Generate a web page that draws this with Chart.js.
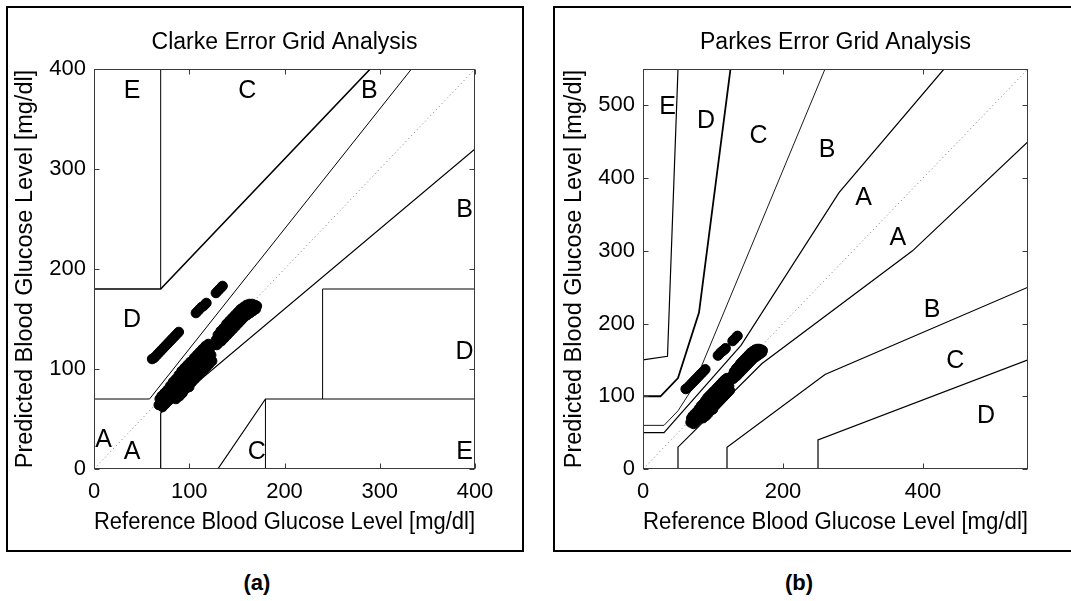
<!DOCTYPE html>
<html>
<head>
<meta charset="utf-8">
<script src="https://cdn.jsdelivr.net/npm/chart.js@4.4.1/dist/chart.umd.min.js"></script>
<style>
  html, body { margin: 0; padding: 0; background: #fff; }
  body { width: 1071px; height: 601px; position: relative; overflow: hidden; }
  .frame { position: absolute; border: 2px solid #000; box-sizing: border-box; }
  #frameA { left: 6px; top: 6px; width: 518px; height: 546px; }
  #frameB { left: 553px; top: 6px; width: 560px; height: 546px; }
  canvas { position: absolute; top: 0; }
  #clarke { left: 0; }
  #parkes { left: 535px; }
  .caption { position: absolute; top: 570px; width: 60px; line-height: 26px; text-align: center;
             font: bold 22px "Liberation Sans", Arial, sans-serif; }
</style>
</head>
<body>
<div class="frame" id="frameA"></div>
<div class="frame" id="frameB"></div>
<canvas id="clarke" width="530" height="560"></canvas>
<canvas id="parkes" width="536" height="560"></canvas>
<div class="caption" style="left:227px">(a)</div>
<div class="caption" style="left:769px">(b)</div>
<script>
const FONT = '"Liberation Sans", Arial, Helvetica, sans-serif';

// measurements: reference vs predicted glucose (same set on both grids)
const refGlucose = [
  61, 63, 65, 67, 69, 71, 73, 75, 77, 79, 81, 83, 85, 87, 89,
  107, 109, 111, 113, 115, 117, 118,
  128, 130, 132, 134, 135,
  68, 69, 70, 71, 72, 73, 74, 75, 76, 77, 78, 79, 80, 81, 82, 83, 84, 85, 86, 86,
  87, 88, 88, 89, 90, 90, 91, 92, 92, 93, 94, 95, 95, 96, 97, 98, 98, 99, 100, 100,
  101, 102, 103, 104, 105, 105, 106, 107, 108, 108, 109, 110, 111, 111, 112, 113, 114, 114,
  115, 116, 117, 117, 118, 119, 120, 120, 121, 122, 123, 124,
  128, 129, 130, 131, 132, 133, 134, 135, 136, 137, 138, 139, 140, 141, 142, 143,
  144, 145, 146, 147, 148, 149, 150, 151, 152, 153, 154, 155, 156, 157, 158, 159, 160,
  161, 162, 163, 164, 165, 166, 167, 168, 169, 170, 171
];
const predGlucose = [
  110, 111, 113, 115, 117, 119, 121, 123, 125, 127, 129, 131, 133, 135, 137,
  156, 158, 160, 162, 163, 165, 166,
  176, 178, 180, 182, 183,
  64, 70, 66, 73, 62, 69, 76, 65, 72, 79, 68, 75, 83, 71, 78, 87, 74, 81, 90, 70,
  77, 85, 72, 94, 80, 73, 89, 98, 83, 76, 93, 101, 86, 80, 96, 104, 89, 83, 99, 82,
  107, 92, 87, 102, 111, 95, 90, 106, 114, 99, 93, 109, 117, 102, 96, 112, 120, 105,
  99, 115, 123, 108, 102, 118, 125, 111, 105, 121, 114, 108,
  129, 124, 134, 126, 131, 138, 128, 134, 141, 131, 137, 145, 134, 141, 148, 137,
  144, 151, 140, 147, 154, 143, 150, 157, 146, 153, 160, 149, 156, 162, 152, 159, 164,
  154, 161, 165, 156, 162, 165, 158, 163, 164, 160, 163
];

// Clarke zone boundaries (polylines)
const clarkeBoundX = [
  [0, 58.3, 333.3],
  [0, 70, 290],
  [70, 70],
  [70, 70, 400],
  [130, 180, 400],
  [180, 180],
  [240, 240, 400]
];
const clarkeBoundY = [
  [70, 70, 400],
  [180, 180, 400],
  [180, 400],
  [0, 56, 320],
  [0, 70, 70],
  [0, 70],
  [70, 180, 180]
];
const clarkeTicks = [0, 100, 200, 300, 400];
const clarkeZoneText = ['A', 'A', 'B', 'B', 'C', 'C', 'D', 'D', 'E', 'E'];
const clarkeZoneX = [10, 40, 289, 389, 161, 171, 40, 389, 40, 389];
const clarkeZoneY = [29, 17, 378, 259, 378, 17, 149, 117, 378, 17];

// Parkes (type 1) zone boundaries
const parkesBoundX = [
  [0, 30, 140, 280, 430],
  [50, 50, 170, 385, 550],
  [0, 30, 50, 70, 260],
  [120, 120, 260, 550],
  [0, 25, 50, 80, 125],
  [250, 250, 550],
  [0, 35, 50]
];
const parkesBoundY = [
  [50, 50, 170, 380, 550],
  [0, 30, 145, 300, 450],
  [60, 60, 80, 110, 550],
  [0, 30, 130, 250],
  [100, 100, 125, 215, 550],
  [0, 40, 150],
  [150, 155, 550]
];
const parkesXTicks = [0, 200, 400];
const parkesYTicks = [0, 100, 200, 300, 400, 500];
const parkesZoneText = ['E', 'D', 'C', 'B', 'A', 'A', 'B', 'C', 'D'];
const parkesZoneX = [35, 90, 165, 263, 315, 364, 413, 446, 490];
const parkesZoneY = [497, 478, 458, 438, 373, 318, 219, 148, 73];

function toPoints(xs, ys) {
  return xs.map((x, i) => ({ x, y: ys[i] }));
}

// zone letters + box with inward ticks on all four sides
function gridDecor(text, tx, ty) {
  return {
    id: 'gridDecor',
    afterDatasetsDraw(chart) {
      const { ctx, chartArea: a, scales: { x, y } } = chart;
      ctx.save();
      ctx.font = '25px ' + FONT;
      ctx.fillStyle = '#000';
      ctx.textAlign = 'center';
      ctx.textBaseline = 'middle';
      text.forEach((t, i) => ctx.fillText(t, x.getPixelForValue(tx[i]), y.getPixelForValue(ty[i])));

      const l = Math.round(a.left) + 0.5, r = Math.round(a.right) - 0.5;
      const t0 = Math.round(a.top) + 0.5, b = Math.round(a.bottom) - 0.5;
      ctx.strokeStyle = '#3a3a3a';
      ctx.lineWidth = 1;
      ctx.strokeRect(l, t0, r - l, b - t0);
      ctx.beginPath();
      x.ticks.forEach(tk => {
        const px = Math.round(x.getPixelForValue(tk.value)) + 0.5;
        ctx.moveTo(px, b); ctx.lineTo(px, b - 5);
        ctx.moveTo(px, t0); ctx.lineTo(px, t0 + 5);
      });
      y.ticks.forEach(tk => {
        const py = Math.round(y.getPixelForValue(tk.value)) + 0.5;
        ctx.moveTo(l, py); ctx.lineTo(l + 5, py);
        ctx.moveTo(r, py); ctx.lineTo(r - 5, py);
      });
      ctx.stroke();
      ctx.restore();
    }
  };
}

function buildGrid(canvas, o) {
  const datasets = [{
    data: toPoints(refGlucose, predGlucose),
    pointRadius: 4.8,
    pointBorderWidth: 1,
    pointBackgroundColor: '#000',
    pointBorderColor: '#000',
    order: 0
  }, {
    data: [{ x: 0, y: 0 }, { x: o.max, y: o.max }],
    showLine: true,
    pointRadius: 0,
    borderColor: '#777',
    borderWidth: 1,
    borderDash: [1, 3],
    order: 2
  }];
  o.boundX.forEach((xs, i) => datasets.push({
    data: toPoints(xs, o.boundY[i]),
    showLine: true,
    pointRadius: 0,
    borderColor: '#000',
    borderWidth: o.widths[i],
    order: 1
  }));

  const tickFont = { family: FONT, size: 22 };
  const titleFont = { family: FONT, size: 23.5 };

  return new Chart(canvas, {
    type: 'scatter',
    data: { datasets },
    options: {
      responsive: false,
      animation: false,
      devicePixelRatio: 1,
      events: [],
      layout: { padding: { top: 20, right: o.padRight, left: 0, bottom: 0 } },
      plugins: {
        legend: { display: false },
        tooltip: { enabled: false },
        title: {
          display: true,
          text: o.title,
          fullSize: false,
          color: '#000',
          font: { family: FONT, size: 23, weight: 'normal' },
          padding: { top: 9.2, bottom: 12.2 }
        }
      },
      scales: {
        x: {
          type: 'linear', min: 0, max: o.max,
          afterBuildTicks: s => { s.ticks = o.xTicks.map(v => ({ value: v })); },
          afterFit: s => { s.height = 560 - 469; },
          grid: { display: false, drawTicks: false },
          border: { display: false },
          ticks: { color: '#000', font: tickFont, padding: 9.8, maxRotation: 0 },
          title: {
            display: true, text: 'Reference Blood Glucose Level [mg/dl]',
            color: '#000', font: titleFont, padding: { top: 0, bottom: 22.9 }
          }
        },
        y: {
          type: 'linear', min: 0, max: o.max,
          afterBuildTicks: s => { s.ticks = o.yTicks.map(v => ({ value: v })); },
          afterFit: s => { s.width = o.axisWidth; },
          grid: { display: false, drawTicks: false },
          border: { display: false },
          ticks: { color: '#000', font: tickFont, padding: 8 },
          title: {
            display: true, text: 'Predicted Blood Glucose Level [mg/dl]',
            color: '#000', font: titleFont, padding: { top: o.yTitlePad, bottom: 0 }
          }
        }
      }
    },
    plugins: [gridDecor(o.text, o.tx, o.ty)]
  });
}

buildGrid(document.getElementById('clarke'), {
  title: 'Clarke Error Grid Analysis',
  max: 400,
  boundX: clarkeBoundX, boundY: clarkeBoundY,
  widths: [1, 1.6, 1, 1.2, 1.2, 1, 1],
  xTicks: clarkeTicks, yTicks: clarkeTicks,
  text: clarkeZoneText, tx: clarkeZoneX, ty: clarkeZoneY,
  axisWidth: 94, padRight: 530 - 475, yTitlePad: 11.5
});

buildGrid(document.getElementById('parkes'), {
  title: 'Parkes Error Grid Analysis',
  max: 550,
  boundX: parkesBoundX, boundY: parkesBoundY,
  widths: [1.2, 1.2, 0.9, 1.2, 1.8, 1.2, 1.2],
  xTicks: parkesXTicks, yTicks: parkesYTicks,
  text: parkesZoneText, tx: parkesZoneX, ty: parkesZoneY,
  axisWidth: 108, padRight: 536 - 493, yTitlePad: 25.9
});
</script>
</body>
</html>
